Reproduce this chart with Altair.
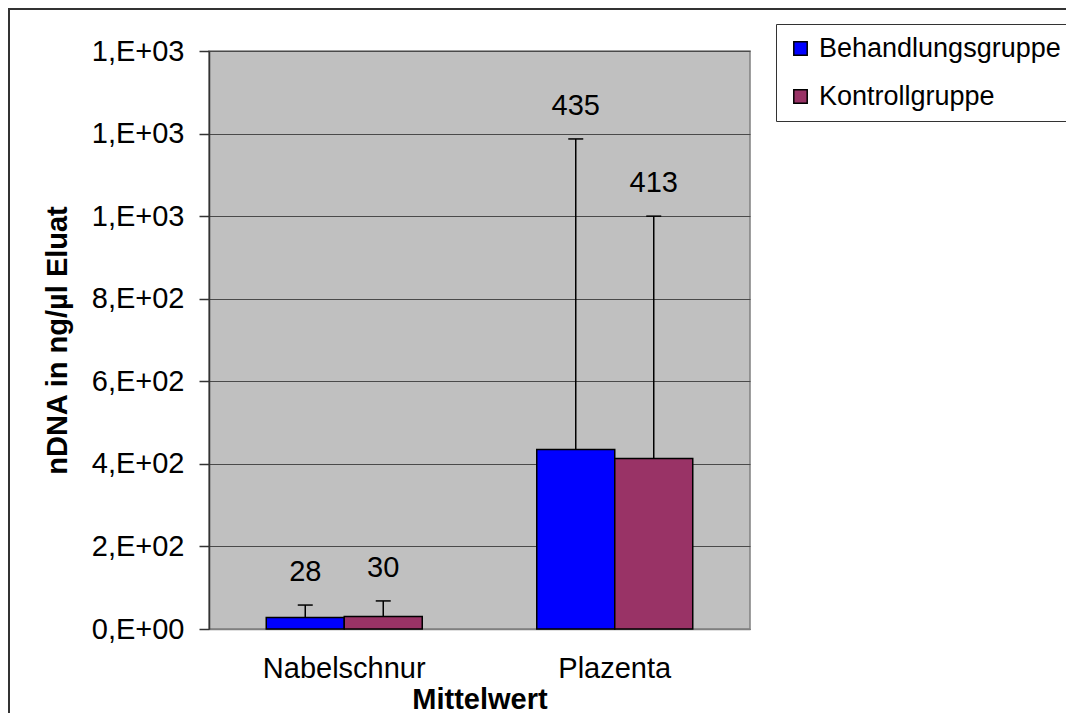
import altair as alt
import pandas as pd

categories = ["Nabelschnur", "Plazenta"]
groups = ["Behandlungsgruppe", "Kontrollgruppe"]
behandlung_mean = [28, 435]
kontroll_mean = [30, 413]
behandlung_err = [30, 752]
kontroll_err = [38, 587]
tick_values = [0, 200, 400, 600, 800, 1000, 1200, 1400]
tick_labels = ["0,E+00", "2,E+02", "4,E+02", "6,E+02", "8,E+02", "1,E+03", "1,E+03", "1,E+03"]
colors = ["#0000FF", "#993366"]

rows = []
for i, c in enumerate(categories):
    for g, means, errs in ((groups[0], behandlung_mean, behandlung_err),
                           (groups[1], kontroll_mean, kontroll_err)):
        rows.append({"category": c, "group": g, "mean": means[i],
                     "top": means[i] + errs[i], "label": str(means[i])})
df = pd.DataFrame(rows)

label_expr = " : ".join(
    f"datum.value == {v} ? '{t}'" for v, t in zip(tick_values, tick_labels)
) + " : ''"

FONT = "Liberation Sans"
FS = 29

x_enc = alt.X(
    "category:N", sort=categories,
    scale=alt.Scale(domain=categories, paddingInner=0, paddingOuter=0),
    axis=alt.Axis(title="Mittelwert", labelAngle=0, ticks=False, tickSize=0,
                  domainColor="#808080", domainWidth=1.5, labelPadding=25,
                  titlePadding=2, grid=False),
)
xo_enc = alt.XOffset("group:N", sort=groups,
                     scale=alt.Scale(domain=groups, paddingInner=0, paddingOuter=0.734))
y_scale = alt.Scale(domain=[0, 1400], nice=False, zero=True)
y_enc = alt.Y(
    "mean:Q", scale=y_scale,
    axis=alt.Axis(title="nDNA in ng/µl Eluat", values=tick_values, labelExpr=label_expr,
                  tickSize=10, tickColor="#333333", tickWidth=1.5, labelPadding=15,
                  domainColor="#333333", domainWidth=1.5, titlePadding=19,
                  grid=True, gridColor="#4a4a4a", gridWidth=1),
)

base = alt.Chart(df)

bars = base.mark_bar(stroke="black", strokeWidth=1.5).encode(
    x=x_enc, xOffset=xo_enc, y=y_enc,
    color=alt.Color(
        "group:N", sort=groups,
        scale=alt.Scale(domain=groups, range=colors),
        legend=alt.Legend(
            title=None, orient="none", legendX=567, legendY=-27,
            strokeColor="#333333", fillColor="white", padding=11,
            labelFontSize=27, labelFont=FONT, labelColor="black", labelLimit=0,
            symbolType="square", symbolSize=180, symbolStrokeColor="black",
            symbolStrokeWidth=1.5, symbolOpacity=1,
            labelOffset=5, rowPadding=20,
        ),
    ),
)

rules = base.mark_rule(color="black", strokeWidth=1.5).encode(
    x=x_enc, xOffset=xo_enc, y=alt.Y("mean:Q", scale=y_scale), y2="top:Q"
)
caps = base.mark_tick(color="black", thickness=1.5, size=15, opacity=1).encode(
    x=x_enc, xOffset=xo_enc, y=alt.Y("top:Q", scale=y_scale)
)
labels = base.mark_text(fontSize=FS, font=FONT, dy=-33, baseline="middle",
                        color="black").encode(
    x=x_enc, xOffset=xo_enc, y=alt.Y("top:Q", scale=y_scale), text="label:N"
)

frame_df = pd.DataFrame({"d": [0]})
frame_v = alt.Chart(frame_df).mark_rule(color="#333333", strokeWidth=2).encode(
    x=alt.value(-200), y=alt.value(-43), y2=alt.value(1000)
)
frame_h = alt.Chart(frame_df).mark_rule(color="#333333", strokeWidth=2).encode(
    x=alt.value(-201), x2=alt.value(2000), y=alt.value(-42)
)

chart = alt.layer(bars, rules, caps, labels, frame_v, frame_h).properties(
    width=541, height=578,
    autosize=alt.AutoSizeParams(type="none"),
    padding={"left": 201, "top": 43, "right": 316, "bottom": 84},
    background="white",
).configure(font=FONT).configure_view(
    fill="#C0C0C0", stroke="#808080", strokeWidth=1.5
).configure_axis(
    labelFont=FONT, titleFont=FONT, labelFontSize=FS, titleFontSize=FS,
    labelColor="black", titleColor="black", titleFontWeight="bold",
)

chart.save("out.html", embed_options={"renderer": "svg", "actions": False})
